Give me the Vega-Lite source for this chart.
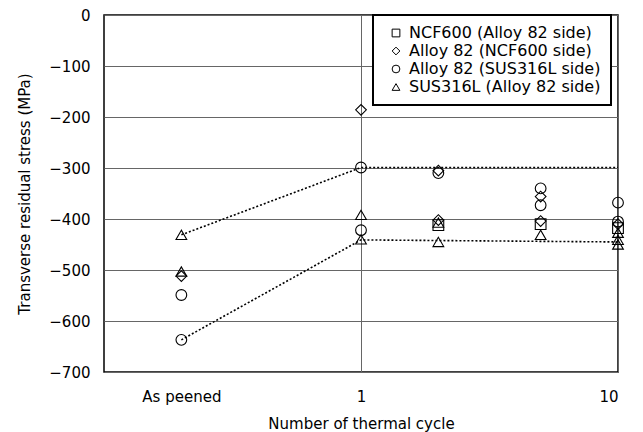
{
  "$schema": "https://vega.github.io/schema/vega-lite/v6.json",
  "width": 514,
  "height": 357,
  "autosize": {"type": "none"},
  "padding": {"left": 104, "top": 15, "right": 25, "bottom": 60},
  "background": "white",
  "config": {
    "view": {"stroke": "black", "strokeWidth": 1.5},
    "font": "DejaVu Sans",
    "legend": {"strokeWidth": 2},
    "axis": {"domain": false, "ticks": false, "labelFont": "DejaVu Sans", "titleFont": "DejaVu Sans", "labelColor": "black", "titleColor": "black", "labelFontSize": 15, "titleFontSize": 15, "titleFontWeight": "normal", "gridColor": "#666666", "gridWidth": 1, "gridOpacity": 1}
  },
  "datasets": {
    "lines": [
      {"g": "upper", "cycle": 0.2, "stress": -431},
      {"g": "upper", "cycle": 1, "stress": -299},
      {"g": "upper", "cycle": 10, "stress": -299},
      {"g": "lower", "cycle": 0.2, "stress": -637},
      {"g": "lower", "cycle": 1, "stress": -441},
      {"g": "lower", "cycle": 10, "stress": -445}
    ],
    "points": [
      {"series": "NCF600 (Alloy 82 side)", "cycle": 2, "stress": -412},
      {"series": "NCF600 (Alloy 82 side)", "cycle": 5, "stress": -410},
      {"series": "NCF600 (Alloy 82 side)", "cycle": 10, "stress": -418},
      {"series": "Alloy 82 (NCF600 side)", "cycle": 0.2, "stress": -512},
      {"series": "Alloy 82 (NCF600 side)", "cycle": 1, "stress": -186},
      {"series": "Alloy 82 (NCF600 side)", "cycle": 2, "stress": -305},
      {"series": "Alloy 82 (NCF600 side)", "cycle": 2, "stress": -402},
      {"series": "Alloy 82 (NCF600 side)", "cycle": 5, "stress": -356},
      {"series": "Alloy 82 (NCF600 side)", "cycle": 5, "stress": -404},
      {"series": "Alloy 82 (NCF600 side)", "cycle": 10, "stress": -410},
      {"series": "Alloy 82 (SUS316L side)", "cycle": 0.2, "stress": -549},
      {"series": "Alloy 82 (SUS316L side)", "cycle": 0.2, "stress": -637},
      {"series": "Alloy 82 (SUS316L side)", "cycle": 1, "stress": -299},
      {"series": "Alloy 82 (SUS316L side)", "cycle": 1, "stress": -422},
      {"series": "Alloy 82 (SUS316L side)", "cycle": 2, "stress": -310},
      {"series": "Alloy 82 (SUS316L side)", "cycle": 5, "stress": -340},
      {"series": "Alloy 82 (SUS316L side)", "cycle": 5, "stress": -373},
      {"series": "Alloy 82 (SUS316L side)", "cycle": 10, "stress": -368},
      {"series": "Alloy 82 (SUS316L side)", "cycle": 10, "stress": -405},
      {"series": "SUS316L (Alloy 82 side)", "cycle": 0.2, "stress": -431},
      {"series": "SUS316L (Alloy 82 side)", "cycle": 0.2, "stress": -503},
      {"series": "SUS316L (Alloy 82 side)", "cycle": 1, "stress": -392},
      {"series": "SUS316L (Alloy 82 side)", "cycle": 1, "stress": -440},
      {"series": "SUS316L (Alloy 82 side)", "cycle": 2, "stress": -407},
      {"series": "SUS316L (Alloy 82 side)", "cycle": 2, "stress": -445},
      {"series": "SUS316L (Alloy 82 side)", "cycle": 5, "stress": -431},
      {"series": "SUS316L (Alloy 82 side)", "cycle": 10, "stress": -427},
      {"series": "SUS316L (Alloy 82 side)", "cycle": 10, "stress": -441},
      {"series": "SUS316L (Alloy 82 side)", "cycle": 10, "stress": -450}
    ]
  },
  "encoding": {
    "x": {
      "field": "cycle", "type": "quantitative",
      "scale": {"type": "log", "domain": [0.1, 10], "nice": false},
      "axis": {
        "values": [0.2, 1, 10],
        "labelExpr": "datum.value < 0.5 ? 'As peened' : format(datum.value, 'd')",
        "labelPadding": 17,
        "titlePadding": 12,
        "title": "Number of thermal cycle",
        "gridOpacity": {"condition": {"test": "datum.value < 0.5", "value": 0}, "value": 1}
      }
    },
    "y": {
      "field": "stress", "type": "quantitative",
      "scale": {"domain": [-700, 0], "nice": false},
      "axis": {
        "values": [-700, -600, -500, -400, -300, -200, -100, 0],
        "labelPadding": 14,
        "titlePadding": 16,
        "title": "Transverse residual stress (MPa)"
      }
    }
  },
  "layer": [
    {
      "data": {"name": "lines"},
      "mark": {"type": "line", "color": "black", "strokeWidth": 1.6, "strokeDash": [2, 2]},
      "encoding": {"detail": {"field": "g"}}
    },
    {
      "data": {"name": "points"},
      "mark": {"type": "point", "filled": false, "color": "black", "strokeWidth": 1.1, "size": 115, "opacity": 1, "clip": false},
      "encoding": {
        "shape": {
          "field": "series", "type": "nominal",
          "scale": {
            "domain": ["NCF600 (Alloy 82 side)", "Alloy 82 (NCF600 side)", "Alloy 82 (SUS316L side)", "SUS316L (Alloy 82 side)"],
            "range": ["square", "diamond", "circle", "triangle-up"]
          },
          "legend": {
            "title": null,
            "orient": "none",
            "legendX": 269,
            "legendY": 0,
            "fillColor": "white",
            "strokeColor": "black",
            "padding": 10,
            "labelFont": "DejaVu Sans",
            "labelFontSize": 16,
            "labelColor": "black",
            "labelLimit": 400,
            "symbolSize": 60,
            "symbolOffset": 5,
            "symbolStrokeColor": "black",
            "symbolStrokeWidth": 1,
            "symbolOpacity": 1,
            "rowPadding": 2,
            "labelOffset": 5
          }
        }
      }
    }
  ]
}
